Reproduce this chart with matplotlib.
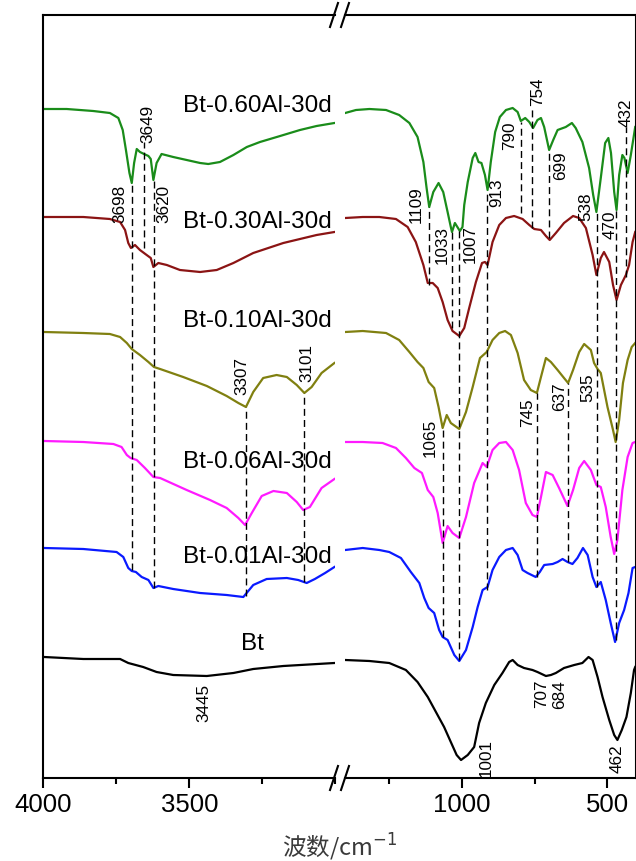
import matplotlib

matplotlib.use("Agg")
import matplotlib.pyplot as plt
from matplotlib.lines import Line2D
from matplotlib.ticker import MultipleLocator

plt.rcParams["font.family"] = ["Liberation Sans", "DejaVu Sans"]

# ---- spectra (wavenumber in cm-1, transmittance in arbitrary offset units) ----
# left panel: 4000-3000 cm-1, right panel: 1400-400 cm-1
wn_hi_060 = [3997, 3920, 3829, 3772, 3743, 3728, 3717, 3705, 3697, 3689, 3680, 3669, 3655, 3640,
             3632, 3623, 3612, 3595, 3555, 3509, 3463, 3435, 3395, 3349, 3303, 3258, 3189, 3121,
             3064, 3003]
t_hi_060 = [669, 669, 667, 665, 660, 648, 628, 605, 595, 615, 629, 626, 624, 622,
            619, 598, 615, 624, 621, 618, 615, 614, 616, 623, 631, 636, 642, 648,
            652, 655]
wn_lo_060 = [1399, 1362, 1316, 1259, 1214, 1179, 1151, 1131, 1120, 1111, 1097, 1079, 1063, 1048,
             1037, 1033, 1023, 1006, 997, 991, 979, 962, 953, 942, 932, 920, 911, 900, 885, 869,
             848, 825, 808, 797, 782, 768, 755, 740, 728, 717, 700, 686, 671, 643, 622, 609, 586,
             563, 549, 538, 523, 508, 497, 488, 477, 469, 460, 449, 442, 431, 420, 405]
t_lo_060 = [665, 668, 669, 668, 663, 655, 641, 616, 590, 571, 586, 595, 586, 566,
            551, 546, 555, 547, 551, 573, 596, 620, 625, 616, 615, 603, 588, 616, 646, 661,
            668, 670, 666, 657, 660, 656, 650, 658, 660, 651, 628, 638, 648, 651, 655, 650, 636,
            610, 583, 566, 600, 635, 640, 625, 586, 568, 603, 623, 620, 605, 623, 651]

wn_hi_030 = [3997, 3863, 3772, 3737, 3720, 3709, 3700, 3686, 3669, 3646, 3632, 3623, 3606, 3577,
             3532, 3463, 3406, 3349, 3281, 3178, 3064, 3003]
t_hi_030 = [561, 561, 559, 556, 548, 535, 530, 533, 528, 523, 520, 511, 515, 513,
            508, 506, 508, 515, 525, 535, 543, 546]
wn_lo_030 = [1399, 1339, 1282, 1225, 1185, 1157, 1131, 1116, 1099, 1082, 1065, 1048, 1031, 1008,
             991, 974, 951, 930, 920, 911, 894, 871, 848, 820, 791, 768, 751, 728, 711, 698, 677,
             649, 618, 597, 574, 551, 538, 523, 512, 494, 481, 469, 454, 437, 426, 414, 405]
t_lo_030 = [560, 561, 561, 559, 551, 536, 513, 495, 495, 490, 476, 458, 447, 442,
            450, 470, 496, 515, 516, 513, 536, 553, 560, 562, 559, 553, 549, 548, 542, 538, 545,
            555, 562, 560, 550, 523, 503, 520, 526, 516, 493, 478, 493, 503, 513, 536, 546]

wn_hi_010 = [3997, 3863, 3772, 3737, 3714, 3697, 3669, 3640, 3621, 3600, 3521, 3440, 3372, 3332,
             3306, 3281, 3247, 3201, 3166, 3132, 3106, 3081, 3047, 3003]
t_hi_010 = [446, 445, 444, 441, 435, 429, 423, 416, 411, 409, 401, 392, 382, 375,
            371, 386, 400, 403, 401, 393, 385, 391, 405, 415]
wn_lo_010 = [1399, 1339, 1259, 1214, 1179, 1151, 1131, 1113, 1094, 1079, 1065, 1051, 1037, 1008,
             985, 962, 937, 914, 894, 871, 851, 831, 808, 786, 763, 742, 728, 711, 694, 671, 649,
             635, 618, 597, 580, 557, 546, 534, 523, 500, 481, 472, 460, 447, 431, 417, 405]
t_lo_010 = [446, 447, 445, 438, 426, 416, 410, 396, 390, 371, 350, 363, 355, 349,
            366, 391, 420, 426, 438, 445, 447, 443, 425, 398, 388, 385, 401, 420, 416, 408, 400,
            395, 408, 426, 434, 428, 415, 409, 405, 371, 348, 336, 358, 395, 418, 431, 435]

wn_hi_006 = [3997, 3863, 3760, 3732, 3714, 3701, 3680, 3652, 3623, 3600, 3509, 3429, 3372, 3332,
             3309, 3286, 3252, 3212, 3166, 3132, 3110, 3087, 3047, 3003]
t_hi_006 = [337, 336, 334, 331, 323, 320, 318, 310, 301, 300, 288, 278, 270, 260,
            253, 265, 282, 287, 285, 276, 268, 271, 290, 299]
wn_lo_006 = [1399, 1339, 1271, 1225, 1191, 1162, 1136, 1116, 1097, 1082, 1065, 1048, 1031, 1008,
             985, 957, 928, 914, 894, 871, 848, 825, 803, 780, 757, 742, 728, 711, 688, 666, 637,
             618, 597, 580, 557, 538, 523, 506, 489, 477, 466, 449, 431, 414, 405]
t_lo_006 = [336, 336, 335, 330, 320, 310, 305, 288, 281, 265, 235, 252, 245, 240,
            261, 295, 315, 311, 328, 335, 336, 328, 308, 275, 263, 261, 281, 306, 303, 290, 272,
            288, 310, 317, 308, 293, 291, 271, 241, 224, 238, 288, 321, 335, 336]

wn_hi_001 = [3997, 3863, 3749, 3726, 3709, 3697, 3683, 3663, 3640, 3623, 3606, 3555, 3463, 3372,
             3315, 3281, 3235, 3166, 3127, 3098, 3070, 3035, 3003]
t_hi_001 = [230, 229, 226, 221, 210, 207, 206, 201, 198, 190, 192, 189, 185, 183,
            181, 193, 199, 200, 198, 195, 199, 205, 211]
wn_lo_001 = [1399, 1339, 1282, 1248, 1208, 1174, 1145, 1128, 1113, 1094, 1077, 1065, 1048, 1025,
             1008, 985, 962, 945, 928, 911, 894, 871, 848, 825, 808, 791, 774, 746, 732, 717, 688,
             671, 654, 637, 620, 603, 584, 568, 551, 538, 523, 506, 489, 474, 460, 443, 428, 414,
             405]
t_lo_001 = [228, 230, 228, 226, 220, 206, 195, 180, 170, 165, 148, 141, 138, 123,
            117, 128, 151, 171, 188, 191, 208, 221, 228, 230, 223, 208, 205, 201, 206, 213, 214,
            216, 219, 216, 214, 220, 230, 223, 201, 191, 196, 178, 155, 136, 155, 168, 185, 210,
            211]

wn_hi_bt = [3997, 3863, 3737, 3709, 3658, 3612, 3555, 3440, 3349, 3281, 3178, 3003]
t_hi_bt = [121, 119, 119, 115, 111, 106, 103, 102, 105, 109, 112, 115]
wn_lo_bt = [1399, 1316, 1248, 1191, 1151, 1116, 1088, 1060, 1037, 1017, 1002, 979, 957, 940, 917,
            888, 860, 837, 825, 808, 786, 757, 740, 711, 694, 677, 649, 614, 586, 565, 551, 534,
            517, 494, 477, 466, 451, 435, 420, 409, 405]
t_lo_bt = [118, 117, 115, 108, 96, 81, 66, 51, 36, 23, 18, 23, 31, 55, 75,
           93, 105, 116, 118, 113, 110, 108, 106, 102, 103, 105, 110, 113, 115, 121, 118, 101,
           81, 58, 43, 38, 48, 61, 85, 108, 111]

sample_names = ["Bt-0.60Al-30d", "Bt-0.30Al-30d", "Bt-0.10Al-30d",
                "Bt-0.06Al-30d", "Bt-0.01Al-30d", "Bt"]
colors = ["#1a8c1a", "#8b1414", "#808010", "#ff1aff", "#0a1aff", "black"]

# peak marker lines: wavenumber, upper and lower end
lines_hi_wn = [3697, 3656, 3621, 3306, 3106]
lines_hi_top = [595, 636, 598, 371, 385]
lines_hi_bot = [208, 530, 190, 182, 196]
lines_lo_wn = [1111, 1063, 1034, 1009, 914, 798, 758, 701, 741, 634, 536, 472, 435]
lines_lo_top = [571, 351, 546, 547, 588, 656, 671, 628, 385, 395, 566, 568, 651]
lines_lo_bot = [493, 141, 450, 118, 188, 565, 550, 540, 201, 216, 191, 138, 501]

# peak labels: text, x, y (label centre)
labels_hi = ["3698", "3649", "3620", "3307", "3101", "3445"]
labels_hi_x = [3737, 3642, 3587, 3320, 3096, 3450]
labels_hi_y = [574, 654, 574, 402, 415, 75]
labels_lo = ["1109", "1033", "1007", "913", "790", "754", "699", "538", "470", "432",
             "1065", "745", "637", "535", "707", "684", "1001", "462"]
labels_lo_x = [1156, 1065, 972, 880, 835, 741, 660, 574, 492, 437,
               1106, 774, 663, 566, 726, 663, 917, 467]
labels_lo_y = [573, 533, 534, 585, 642, 686, 612, 571, 553, 665,
               340, 365, 381, 390, 84, 83, 20, 19]

W, H = 636, 861
fig = plt.figure(figsize=(W / 100, H / 100), dpi=100)
ax1 = fig.add_axes([43.3 / W, 1 - 778 / H, 292 / W, 763 / H])
ax2 = fig.add_axes([344.9 / W, 1 - 778 / H, 290.6 / W, 763 / H])

hi = [(wn_hi_060, t_hi_060), (wn_hi_030, t_hi_030), (wn_hi_010, t_hi_010),
      (wn_hi_006, t_hi_006), (wn_hi_001, t_hi_001), (wn_hi_bt, t_hi_bt)]
lo = [(wn_lo_060, t_lo_060), (wn_lo_030, t_lo_030), (wn_lo_010, t_lo_010),
      (wn_lo_006, t_lo_006), (wn_lo_001, t_lo_001), (wn_lo_bt, t_lo_bt)]

for (x, y), c in zip(hi, colors):
    ax1.plot(x, y, color=c, lw=1.6, solid_joinstyle="round")
for (x, y), c in zip(lo, colors):
    ax2.plot(x, y, color=c, lw=1.6, solid_joinstyle="round")

dash = dict(color="black", lw=1.0, linestyle=(0, (5, 3)))
ax1.vlines(lines_hi_wn, lines_hi_bot, lines_hi_top, **dash)
ax2.vlines(lines_lo_wn, lines_lo_bot, lines_lo_top, **dash)

for t, x, y in zip(labels_hi, labels_hi_x, labels_hi_y):
    ax1.text(x, y, t, rotation=90, ha="center", va="center", fontsize=12.3)
for t, x, y in zip(labels_lo, labels_lo_x, labels_lo_y):
    ax2.text(x, y, t, rotation=90, ha="center", va="center", fontsize=12.3)

# sample names (baseline positions)
name_y = [666, 550, 451, 310, 215]
for name, y in zip(sample_names[:5], name_y):
    ax1.text(3011, y, name, ha="right", va="baseline", fontsize=17.5)
ax1.text(3285, 128, sample_names[5], ha="center", va="baseline", fontsize=17.5)

ax1.set_xlim(4000, 3000)
ax2.set_xlim(1400, 404)
for ax in (ax1, ax2):
    ax.set_ylim(0, 763)
    ax.set_yticks([])
    ax.tick_params(axis="x", which="major", direction="out", length=7, width=1.5,
                   labelsize=18.5, pad=4)
    ax.tick_params(axis="x", which="minor", direction="out", length=4, width=1.5)
    ax.xaxis.set_minor_locator(MultipleLocator(250))
    for s in ax.spines.values():
        s.set_linewidth(1.5)
ax1.set_xticks([4000, 3500])
ax2.set_xticks([1000, 500])
ax1.spines["right"].set_visible(False)
ax2.spines["left"].set_visible(False)

# axis-break marks
def slash(cx, cy):
    fig.add_artist(Line2D([(cx - 4) / W, (cx + 4) / W], [1 - (cy + 12) / H, 1 - (cy - 12) / H],
                          transform=fig.transFigure, color="black", lw=1.5))

for cy in (15, 778):
    slash(334, cy)
    slash(345, cy)

fig.text(340 / W, 1 - 847 / H, "波数/cm$^{-1}$", ha="center", va="center", fontsize=17,
         color="#3a3a3a", family=["Noto Sans CJK SC", "DejaVu Sans"])

fig.savefig("out.png", dpi=100)
